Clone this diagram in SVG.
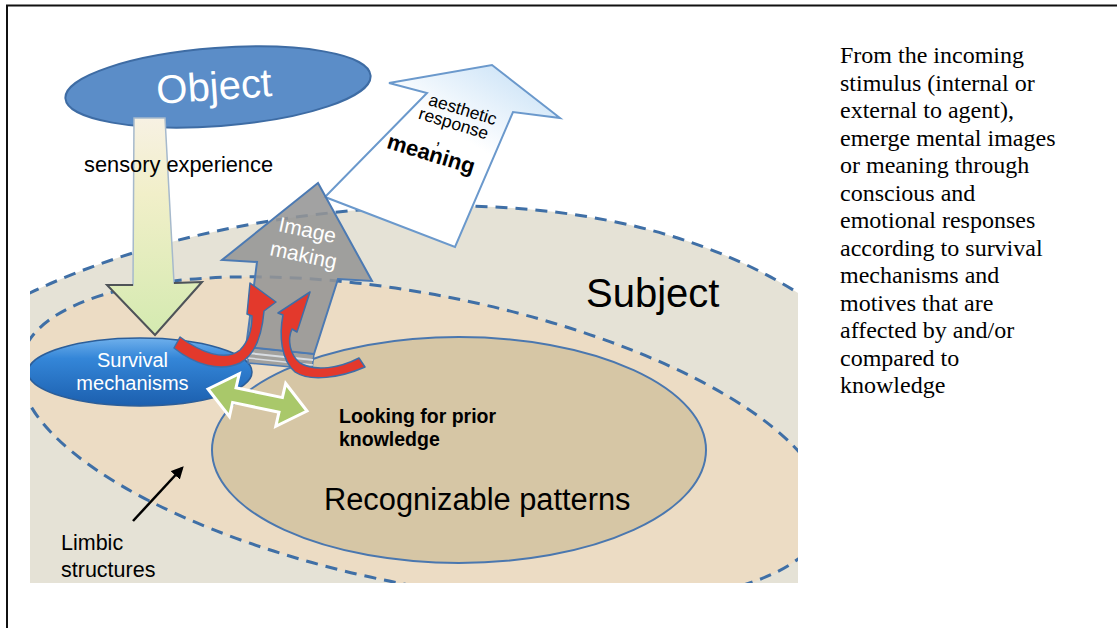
<svg xmlns="http://www.w3.org/2000/svg" width="1117" height="628" viewBox="0 0 1117 628">
  <defs>
    <clipPath id="pictureClip">
      <rect x="30" y="0" width="768" height="583"/>
    </clipPath>
    <linearGradient id="sensoryFill" x1="0" y1="0" x2="0" y2="1">
      <stop offset="0" stop-color="#f7f1e3"/>
      <stop offset="0.35" stop-color="#f1efc9"/>
      <stop offset="1" stop-color="#d4eab0"/>
    </linearGradient>
    <linearGradient id="responseFill" x1="0.2" y1="0.9" x2="0.9" y2="0">
      <stop offset="0" stop-color="#ffffff"/>
      <stop offset="0.55" stop-color="#ffffff"/>
      <stop offset="1" stop-color="#c6e0f6"/>
    </linearGradient>
    <linearGradient id="survivalFill" x1="0" y1="0" x2="0" y2="1">
      <stop offset="0" stop-color="#6fb0ec"/>
      <stop offset="0.3" stop-color="#3486d8"/>
      <stop offset="1" stop-color="#1c5fae"/>
    </linearGradient>
    <marker id="blackHead" viewBox="0 0 10 10" refX="8" refY="5" markerWidth="5" markerHeight="5" orient="auto">
      <path d="M0,0 L10,5 L0,10 Z" fill="#000"/>
    </marker>
    <style>
      .dash { fill: none; stroke: #3f6fa6; stroke-width: 3; stroke-dasharray: 12 8; }
      .sans { font-family: "Liberation Sans", Arial, sans-serif; }
      .serif { font-family: "Liberation Serif", "Times New Roman", serif; font-size: 24px; fill: #000; }
      .white { fill: #ffffff; }
      .red { fill: #e3392c; stroke: #3e6ea8; stroke-width: 1.5; stroke-linejoin: round; }
    </style>
  </defs>

  <!-- frame -->
  <path d="M7,628 L7,5.5 L1117,5.5" fill="none" stroke="#111" stroke-width="2"/>

  <!-- nested regions -->
  <g id="regions" clip-path="url(#pictureClip)">
    <g id="subject">
      <path d="M10,303 C120,245 280,207 450,206 C600,206 720,240 812,302 L812,600 L10,600 Z" fill="#e5e2d6"/>
      <path class="dash" d="M10,303 C120,245 280,207 450,206 C600,206 720,240 812,302"/>
    </g>
    <g id="limbic">
      <ellipse cx="423" cy="440" rx="410" ry="145" transform="rotate(11.25 423 440)" fill="#ecdcc4"/>
      <ellipse class="dash" cx="423" cy="440" rx="410" ry="145" transform="rotate(11.25 423 440)"/>
    </g>
    <g id="patterns">
      <ellipse cx="459" cy="450" rx="247" ry="113" fill="#d6c6a5" stroke="#4a77af" stroke-width="2"/>
    </g>
  </g>

  <!-- aesthetic response arrow -->
  <g id="response">
    <polygon points="325,197 427,93 389,83 492,65 560,118 513,112 455,247" fill="url(#responseFill)" stroke="#6b99cc" stroke-width="2" stroke-linejoin="miter"/>
    <text class="sans" font-size="17.5" text-anchor="middle" transform="translate(461 115) rotate(17)">aesthetic</text>
    <text class="sans" font-size="17.5" text-anchor="middle" transform="translate(452 129) rotate(17)">response</text>
    <text class="sans" font-size="17.5" text-anchor="middle" transform="translate(438 144) rotate(17)">,</text>
    <text class="sans" font-size="22" font-weight="bold" text-anchor="middle" transform="translate(429 161) rotate(17)">meaning</text>
  </g>

  <!-- object -->
  <g id="object">
    <ellipse cx="218" cy="87" rx="153" ry="39" transform="rotate(-4.3 218 87)" fill="#5b8dc8" stroke="#3e6ca4" stroke-width="2"/>
    <text class="sans white" font-size="40" text-anchor="middle" transform="translate(215 100) rotate(-4)">Object</text>
  </g>

  <!-- sensory experience arrow -->
  <g id="sensory">
    <polygon points="134,118 165,118 174,283 202,282 155,335 107,285 133,285" fill="url(#sensoryFill)" stroke="#a6b9cc" stroke-width="1.5"/>
    <polyline points="174,283 202,282 155,335 107,285 133,285" fill="none" stroke="#4f5357" stroke-width="2" stroke-linejoin="miter"/>
    <text class="sans" x="84" y="172" font-size="21.8">sensory experience</text>
  </g>

  <!-- survival mechanisms -->
  <g id="survival" clip-path="url(#pictureClip)">
    <ellipse cx="140" cy="372" rx="112" ry="34" fill="url(#survivalFill)" stroke="#2c5e99" stroke-width="1.5"/>
    <text class="sans white" x="132.5" y="367" font-size="20" text-anchor="middle">Survival</text>
    <text class="sans white" x="132.5" y="390" font-size="20" text-anchor="middle">mechanisms</text>
  </g>

  <!-- image making arrow -->
  <g id="imageMaking">
    <polygon points="248,347 314,354 312,369 248,363" fill="#9a9a9a" fill-opacity="0.9" stroke="#4c7ab3" stroke-width="1.5"/>
    <line x1="248" y1="353" x2="313" y2="360" stroke="#d9dde2" stroke-width="2"/>
    <line x1="248" y1="358" x2="313" y2="365" stroke="#d9dde2" stroke-width="1.5"/>
    <polygon points="318,183 372,281 338,279 314,354 246,347 257,262 222,260" fill="#959595" fill-opacity="0.88" stroke="#4c7ab3" stroke-width="2" stroke-linejoin="miter"/>
    <text class="sans white" font-size="21" text-anchor="middle" transform="translate(306 237) rotate(12)">Image</text>
    <text class="sans white" font-size="21" text-anchor="middle" transform="translate(302 262) rotate(12)">making</text>
  </g>

  <!-- connectors -->
  <g id="connectors">
    <path class="red" d="M180,337 C200,352 225,362 240,350 C248,342 252,330 252,316 L247,314 L250,283 L276,302 L264,311 C262,335 255,355 240,363 C220,372 195,365 174,348 Z"/>
    <path class="red" d="M283,315 C279,335 281,360 295,372 C310,382 340,378 365,367 L359,358 C340,368 315,372 300,363 C290,355 287,340 292,329 L297,332 L310,292 L278,313 Z"/>
    <polygon points="208,389 239.3,373.7 236,387.8 282.4,397.6 285.7,383.5 307,411 275.8,426.3 279,412.2 232.6,402.4 229.4,416.5" fill="#a9c86a" stroke="#ffffff" stroke-width="3" stroke-linejoin="miter"/>
    <line x1="133" y1="521" x2="182" y2="468" stroke="#000" stroke-width="2.5" marker-end="url(#blackHead)"/>
  </g>

  <!-- labels -->
  <g id="labels">
    <text class="sans" x="586" y="307" font-size="40">Subject</text>
    <text class="sans" x="339" y="423" font-size="19.5" font-weight="bold">Looking for prior</text>
    <text class="sans" x="339" y="446" font-size="19.5" font-weight="bold">knowledge</text>
    <text class="sans" x="324" y="510" font-size="30.8">Recognizable patterns</text>
    <text class="sans" x="61" y="550" font-size="21.5">Limbic</text>
    <text class="sans" x="61" y="577" font-size="21.5">structures</text>
  </g>

  <!-- caption -->
  <g id="caption" class="serif">
    <text x="840" y="63">From the incoming</text>
    <text x="840" y="90.5">stimulus (internal or</text>
    <text x="840" y="118">external to agent),</text>
    <text x="840" y="145.5">emerge mental images</text>
    <text x="840" y="173">or meaning through</text>
    <text x="840" y="200.5">conscious and</text>
    <text x="840" y="228">emotional responses</text>
    <text x="840" y="255.5">according to survival</text>
    <text x="840" y="283">mechanisms and</text>
    <text x="840" y="310.5">motives that are</text>
    <text x="840" y="338">affected by and/or</text>
    <text x="840" y="365.5">compared to</text>
    <text x="840" y="393">knowledge</text>
  </g>
</svg>
